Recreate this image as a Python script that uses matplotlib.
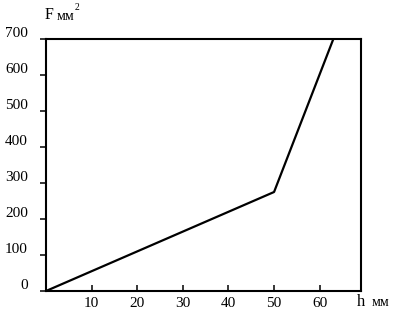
import matplotlib
matplotlib.use("Agg")
import matplotlib.pyplot as plt
from matplotlib.transforms import ScaledTranslation

# Data
h_mm = [0, 50, 63]
F_mm2 = [0, 275, 700]
x_ticks = [10, 20, 30, 40, 50, 60]
y_ticks = [0, 100, 200, 300, 400, 500, 600, 700]

plt.rcParams['font.family'] = ['Liberation Serif', 'DejaVu Serif']

fig = plt.figure(figsize=(3.97, 3.11), dpi=100)
ax = fig.add_axes([0.1159, 0.0643, 0.9086 - 0.1159, 0.8746 - 0.0643])

ax.plot(h_mm, F_mm2, color='black', linewidth=1.6, solid_capstyle='round')

ax.set_xlim(0, 69)
ax.set_ylim(0, 700)
ax.set_xticks(x_ticks)
ax.set_yticks(y_ticks)
ax.set_xticklabels([str(v) for v in x_ticks])
ax.set_yticklabels([str(v) for v in y_ticks])

for s in ax.spines.values():
    s.set_linewidth(1.5)
    s.set_color('black')

# lengths/pads in points (1 px = 0.72 pt at 100 dpi)
ax.tick_params(axis='x', direction='in', length=4.5, width=1.1, pad=4.5, labelsize=11)
ax.tick_params(axis='y', direction='out', length=4.5, width=1.1, pad=8.5, labelsize=11)

off = ScaledTranslation(0, 7 / 100, fig.dpi_scale_trans)
for lab in ax.get_yticklabels():
    lab.set_transform(lab.get_transform() + off)

fig.text(45 / 397, 1 - 15 / 311, "F", fontsize=11.5, ha='left', va='center')
fig.text(57 / 397, 1 - 16 / 311, "мм", fontsize=10, ha='left', va='center')
fig.text(75 / 397, 1 - 7 / 311, "2", fontsize=7, ha='left', va='center')

fig.text(357 / 397, 1 - 302 / 311, "h", fontsize=12, ha='left', va='center')
fig.text(372 / 397, 1 - 303 / 311, "мм", fontsize=10, ha='left', va='center')

fig.savefig("out.png", dpi=100)
